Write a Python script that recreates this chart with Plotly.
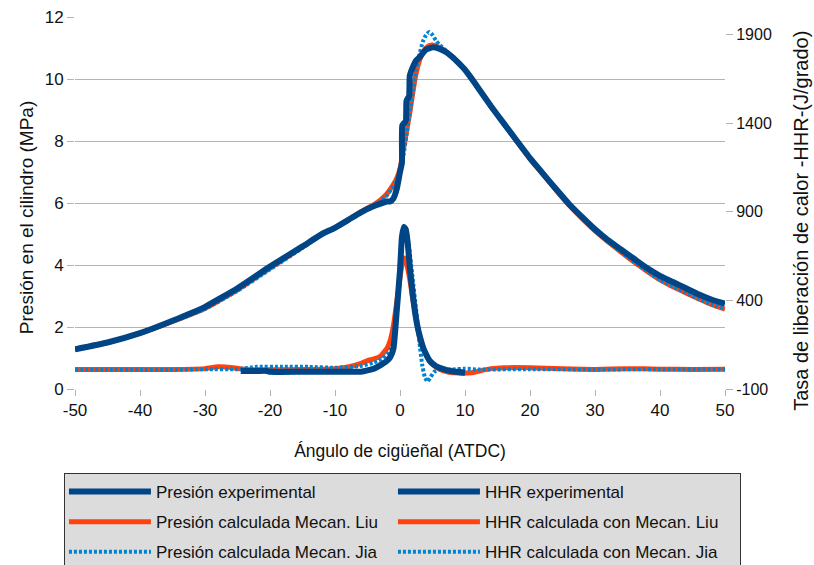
import plotly.graph_objects as go

# ---- Cylinder pressure (MPa) vs crank angle (deg ATDC) ----
ang_p_exp = [-50, -45, -40, -35, -30, -25, -20, -15, -12, -10, -8, -6, -4, -3, -2, -1.5, -1,
             -0.5, 0, 0.3, 0.35, 0.9, 1.0, 1.4, 1.5, 2, 2.5, 3, 4, 5, 6, 7, 8, 9, 10, 11, 12, 14,
             16, 18, 20, 22, 24, 26, 28, 30, 32, 34, 36, 38, 40, 42, 44, 46, 48, 50]
p_exp = [1.28, 1.5, 1.8, 2.2, 2.65, 3.25, 3.95, 4.6, 5.0, 5.2, 5.45, 5.7, 5.9, 5.98, 6.05, 6.05,
         6.15, 6.45, 7.0, 7.3, 8.5, 8.65, 9.3, 9.45, 10.1, 10.4, 10.6, 10.7, 10.95, 11.02, 10.98,
         10.88, 10.72, 10.52, 10.3, 10.02, 9.72, 9.12, 8.56, 8.0, 7.45, 6.95, 6.45, 5.97, 5.55,
         5.15, 4.8, 4.5, 4.2, 3.9, 3.65, 3.45, 3.25, 3.05, 2.88, 2.75]

ang_p_liu = [-50, -45, -40, -35, -30, -25, -20, -15, -12, -10, -8, -6, -4, -3, -2, -1, -0.5, 0,
             0.5, 1, 1.5, 2, 2.5, 3, 3.5, 4, 4.5, 5, 6, 7, 8, 9, 10, 11, 12, 14, 16, 18, 20, 22,
             24, 26, 28, 30, 32, 34, 36, 38, 40, 42, 44, 46, 48, 50]
p_liu = [1.28, 1.5, 1.8, 2.18, 2.6, 3.2, 3.9, 4.58, 5.0, 5.2, 5.45, 5.72, 5.95, 6.1, 6.3, 6.6,
         6.8, 7.1, 7.7, 8.3, 8.9, 9.6, 10.2, 10.6, 10.85, 11.0, 11.08, 11.1, 11.02, 10.9, 10.72,
         10.52, 10.3, 10.02, 9.72, 9.12, 8.55, 7.98, 7.42, 6.92, 6.42, 5.93, 5.5, 5.1, 4.75,
         4.42, 4.1, 3.8, 3.52, 3.3, 3.1, 2.9, 2.72, 2.58]

ang_p_jia = [-50, -45, -40, -35, -30, -25, -20, -15, -12, -10, -8, -6, -4, -3, -2, -1, -0.5, 0,
             0.5, 1, 1.5, 2, 2.5, 3, 3.5, 4, 4.5, 5, 5.5, 6, 7, 8, 9, 10, 11, 12, 14, 16, 18, 20,
             22, 24, 26, 28, 30, 32, 34, 36, 38, 40, 42, 44, 46, 48, 50]
p_jia = [1.27, 1.49, 1.79, 2.17, 2.58, 3.17, 3.86, 4.55, 4.98, 5.18, 5.43, 5.7, 5.93, 6.05, 6.25,
         6.55, 6.75, 7.0, 7.5, 8.2, 8.9, 9.6, 10.3, 10.8, 11.2, 11.42, 11.52, 11.42, 11.25, 11.12,
         10.93, 10.73, 10.52, 10.3, 10.02, 9.72, 9.12, 8.55, 7.98, 7.42, 6.92, 6.42, 5.93, 5.5,
         5.1, 4.75, 4.42, 4.1, 3.8, 3.52, 3.3, 3.1, 2.9, 2.72, 2.58]

# ---- Heat release rate (J/deg) vs crank angle ----
ang_h_exp = [-24.5, -22, -20.5, -20, -15, -10, -6, -5, -4, -3, -2, -1.5, -1, -0.5, 0, 0.3, 0.6,
             0.9, 1.2, 1.5, 2, 2.6, 3.1, 3.6, 4.1, 4.6, 5.5, 6.7, 8, 10]
h_exp = [2, 2, 2, -3, -3, -3, -2, 5, 15, 35, 60, 80, 130, 340, 570, 760, 815, 800, 720, 590,
         420, 270, 190, 130, 90, 58, 30, 12, 0, -8]

ang_h_liu = [-50, -45, -40, -35, -30, -28, -26, -24, -20, -15, -10, -8, -6, -5, -4, -3, -2, -1.5,
             -1, -0.5, 0, 0.4, 0.7, 1.0, 1.5, 2, 2.6, 3.1, 3.6, 4.1, 4.6, 5.5, 6.5, 7.5, 9, 11,
             12, 14, 16, 20, 25, 28, 30, 35, 40, 45, 50]
h_liu = [10, 10, 10, 10, 15, 25, 22, 12, 8, 10, 15, 25, 45, 60, 70, 85, 130, 175, 260, 390, 530,
         620, 640, 610, 520, 400, 270, 180, 125, 85, 55, 25, 5, -5, -10, -8, 0, 15, 20, 20, 15,
         12, 10, 15, 12, 10, 12]

ang_h_jia = [-50, -45, -40, -35, -30, -25, -22, -18, -14, -10, -6, -4, -3, -2, -1.5, -1, -0.5, 0,
             0.4, 0.7, 1.0, 1.4, 1.9, 2.5, 3.0, 3.4, 3.8, 4.2, 4.6, 5.2, 6, 8, 10, 12, 20, 30, 40,
             50]
h_jia = [8, 8, 8, 8, 12, 12, 25, 25, 25, 20, 30, 50, 65, 95, 120, 160, 350, 620, 780, 805, 790,
         700, 540, 340, 160, 40, -30, -58, -40, -5, 10, 10, 15, 10, 12, 10, 12, 12]

# ---- Axis ticks ----
x_ticks = [-50, -40, -30, -20, -10, 0, 10, 20, 30, 40, 50]
x_ticktext = ["-50", "-40", "-30", "-20", "-10", "0", "10", "20", "30", "40", "50"]
y_ticks = [0, 2, 4, 6, 8, 10, 12]
y2_ticks = [-100, 400, 900, 1400, 1900]
y2_ticktext = ["-100", "400", "900", "1400", "1900"]

NAVY = "#004586"
ORANGE = "#ff420e"
SKY = "#0084d1"
FONT = "Liberation Sans"
GRID = "#b3b3b3"
TEXT = "#111111"

fig = go.Figure()

# name, x, y, axis, colour, width, dash, z-order, legend entry width
series = [
    ("Presión experimental", ang_p_exp, p_exp, "y", NAVY, 6, "solid", 3, 232),
    ("HHR experimental", ang_h_exp, h_exp, "y2", NAVY, 6, "solid", 3, 250),
    ("Presión calculada Mecan. Liu", ang_p_liu, p_liu, "y", ORANGE, 5, "solid", 1, 232),
    ("HHR calculada con Mecan. Liu", ang_h_liu, h_liu, "y2", ORANGE, 5, "solid", 1, 250),
    ("Presión calculada Mecan. Jia", ang_p_jia, p_jia, "y", SKY, 4, "3px,2px", 2, 232),
    ("HHR calculada con Mecan. Jia", ang_h_jia, h_jia, "y2", SKY, 4, "3px,2px", 2, 250),
]

for i, (name, xs, ys, yax, color, width, dash, z, lw) in enumerate(series):
    fig.add_trace(go.Scatter(
        x=xs, y=ys, name=name, yaxis=yax, mode="lines",
        line=dict(color=color, width=width, dash=dash, shape="spline", smoothing=0.4),
        legendgroup=f"g{i}", legendwidth=lw, zorder=z,
    ))

# Rotated axis titles, placed as paper-anchored text
fig.add_annotation(
    text="Presión en el cilindro (MPa)", textangle=-90,
    xref="paper", yref="paper", x=-0.0754, y=0.462,
    xanchor="center", yanchor="middle", showarrow=False,
    font=dict(family=FONT, size=19, color=TEXT),
)
fig.add_annotation(
    text="Tasa de liberación de calor -HHR-(J/grado)", textangle=-90,
    xref="paper", yref="paper", x=1.1169, y=0.452,
    xanchor="center", yanchor="middle", showarrow=False,
    font=dict(family=FONT, size=20, color=TEXT),
)

fig.update_layout(
    width=814, height=565,
    margin=dict(l=75, r=89, t=17, b=176, autoexpand=False),
    paper_bgcolor="white", plot_bgcolor="white",
    font=dict(family=FONT, size=17, color=TEXT),
    xaxis=dict(
        range=[-50, 50], tickvals=x_ticks, ticktext=x_ticktext,
        showgrid=False, zeroline=False,
        showline=True, linecolor=GRID, linewidth=1,
        ticks="outside", ticklen=6, tickcolor=GRID,
        tickfont=dict(size=17),
        title=dict(text="Ángulo de cigüeñal (ATDC)", font=dict(size=17.5), standoff=25),
    ),
    yaxis=dict(
        range=[0, 12], tickvals=y_ticks,
        showgrid=True, gridcolor=GRID, gridwidth=1, zeroline=False,
        showline=True, linecolor=GRID, linewidth=1,
        ticks="outside", ticklen=7, tickcolor=GRID,
        tickfont=dict(size=17),
    ),
    yaxis2=dict(
        range=[-100, 2000], tickvals=y2_ticks, ticktext=y2_ticktext,
        overlaying="y", side="right",
        showgrid=False, zeroline=False,
        showline=True, linecolor=GRID, linewidth=1,
        ticks="outside", ticklen=7, tickcolor=GRID,
        tickfont=dict(size=16),
    ),
    legend=dict(
        orientation="h", traceorder="grouped",
        x=-0.017, xanchor="left", y=-0.226, yanchor="top",
        bgcolor="#dcdcdc", bordercolor="#333333", borderwidth=1,
        font=dict(size=17, color=TEXT),
        itemwidth=82, tracegroupgap=5,
    ),
)

fig.write_html("out.html")
